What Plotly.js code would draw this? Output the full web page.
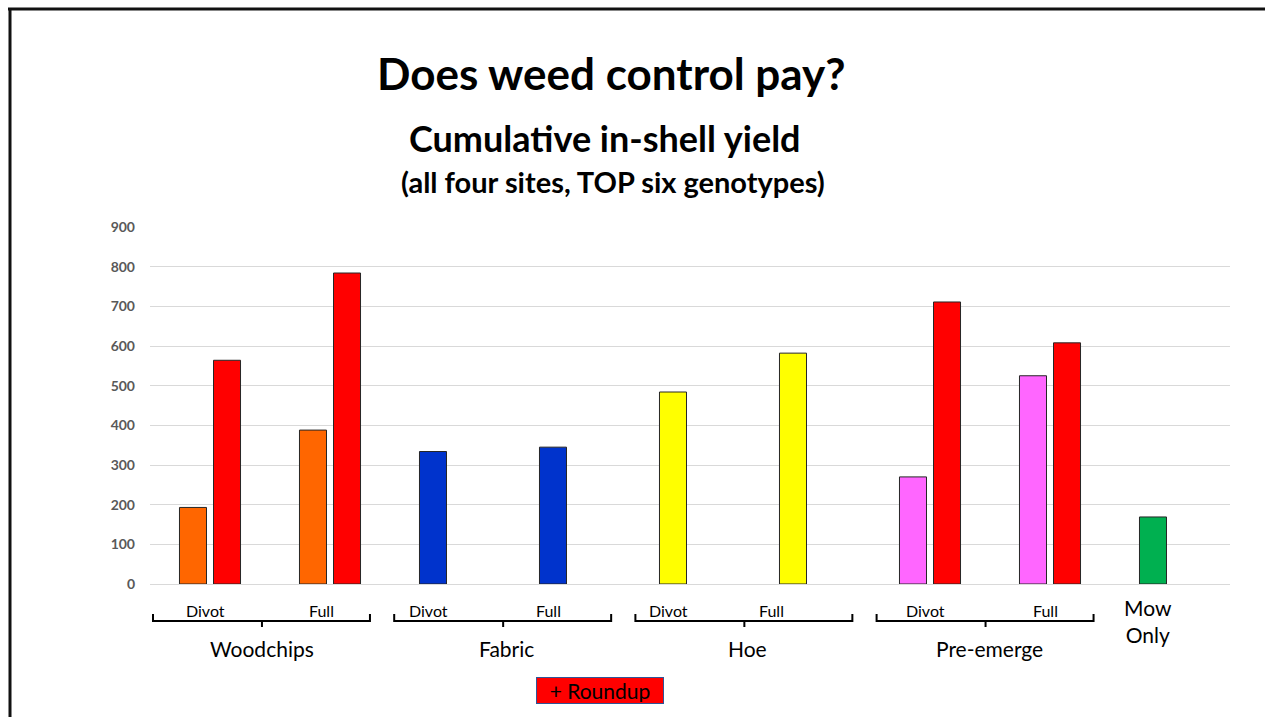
<!DOCTYPE html>
<html>
<head>
<meta charset="utf-8">
<script src="https://cdn.plot.ly/plotly-3.0.1.min.js"></script>
<style>
  html, body { margin: 0; padding: 0; background: #fff; }
  #chart { width: 1265px; height: 717px; }
</style>
</head>
<body>
<div id="chart"></div>
<script>
// Cumulative in-shell yield per weed-control treatment
const treatments = ['Woodchips', 'Fabric', 'Hoe', 'Pre-emerge'];
const variants = ['Divot', 'Full'];
const categories = [
  'Woodchips Divot', 'Woodchips Full',
  'Fabric Divot', 'Fabric Full',
  'Hoe Divot', 'Hoe Full',
  'Pre-emerge Divot', 'Pre-emerge Full',
  'Mow Only'
];
const baseYield = [193, 388, 334, 345, 484, 582, 270, 525, 169];
const roundupYield = [564, 784, null, null, null, null, 711, 608, null];
const baseColors = ['#FF6600', '#FF6600', '#0033CC', '#0033CC', '#FFFF00', '#FFFF00', '#FF66FF', '#FF66FF', '#00B050'];
const roundupColor = '#FF0000';
const controlLabel = 'Mow<br>Only';
const roundupLabel = '+ Roundup';
const yTicks = [0, 100, 200, 300, 400, 500, 600, 700, 800, 900];

// plot-area geometry in pixels
const W = 1265, H = 717;
const L = 150, R = 35, T = 227, B = 133;
const plotW = W - L - R, plotH = H - T - B;
const px = x => (x - L) / plotW;          // page pixel -> paper x
const py = y => (H - B - y) / plotH;      // page pixel -> paper y

const FONT = 'Lato, "Open Sans", sans-serif';
const outline = { color: '#262626', width: 1 };

const traces = [
  {
    type: 'bar', x: categories, y: baseYield,
    marker: { color: baseColors, line: outline },
    hoverinfo: 'x+y', showlegend: false
  },
  {
    type: 'bar', x: categories, y: roundupYield,
    marker: { color: roundupColor, line: outline },
    hoverinfo: 'x+y', showlegend: false
  }
];

// brackets grouping the Divot / Full pairs of each treatment
const shapes = [];
const annotations = [];
const yLine = py(621), yEnd = py(614), yTick = py(627);
const divotShift = [-0.04, -0.18, -0.18, -0.04];
const fullShift = [-0.075, -0.18, -0.32, -0.04];
treatments.forEach((name, k) => {
  const left = 2.01 * k - 0.475;
  const right = 2.01 * k + 1.333;
  const mid = 2.01 * k + 0.433;
  shapes.push({
    type: 'path', xref: 'x', yref: 'paper',
    path: `M ${left},${yEnd} L ${left},${yLine} L ${right},${yLine} L ${right},${yEnd} ` +
          `M ${mid},${yLine} L ${mid},${yTick}`,
    line: { color: '#000', width: 2 }
  });
  annotations.push({
    x: mid + (k >= 1 ? 0.03 : 0), y: py(648), xref: 'x', yref: 'paper',
    text: name, showarrow: false, yanchor: 'middle',
    font: { family: FONT, size: 21, color: '#000' }
  });
  annotations.push({
    x: 2 * k + divotShift[k], y: py(610), xref: 'x', yref: 'paper',
    text: variants[0], showarrow: false, yanchor: 'middle',
    font: { family: FONT, size: 16, color: '#000' }
  });
  annotations.push({
    x: 2 * k + 1 + fullShift[k], y: py(610), xref: 'x', yref: 'paper',
    text: variants[1], showarrow: false, yanchor: 'middle',
    font: { family: FONT, size: 16, color: '#000' }
  });
});

annotations.push({
  x: categories.length - 1 - 0.18, y: py(621), xref: 'x', yref: 'paper',
  text: controlLabel, showarrow: false, yanchor: 'middle',
  font: { family: FONT, size: 21, color: '#000' }
});

// "+ Roundup" key box
annotations.push({
  x: px(600), y: py(690), xref: 'paper', yref: 'paper',
  text: roundupLabel, showarrow: false, xanchor: 'center', yanchor: 'middle',
  width: 124, height: 23, borderpad: 1,
  bgcolor: roundupColor, bordercolor: '#2F5597', borderwidth: 1,
  font: { family: FONT, size: 21, color: '#000' }
});

// headings
annotations.push({
  x: px(611), y: py(73), xref: 'paper', yref: 'paper',
  text: '<b>Does weed control pay?</b>', showarrow: false, yanchor: 'middle',
  font: { family: FONT, size: 44, color: '#000' }
});
annotations.push({
  x: px(605), y: py(138), xref: 'paper', yref: 'paper',
  text: '<b>Cumulative in-shell yield</b>', showarrow: false, yanchor: 'middle',
  font: { family: FONT, size: 36, color: '#000' }
});
annotations.push({
  x: px(613), y: py(181), xref: 'paper', yref: 'paper',
  text: '<b>(all four sites, TOP six genotypes)</b>', showarrow: false, yanchor: 'middle',
  font: { family: FONT, size: 29, color: '#000' }
});

// slide frame (top and left edges)
shapes.push({
  type: 'line', xref: 'paper', yref: 'paper',
  x0: px(8), x1: px(1270), y0: py(9), y1: py(9),
  line: { color: '#111', width: 3 }
});
shapes.push({
  type: 'line', xref: 'paper', yref: 'paper',
  x0: px(10), x1: px(10), y0: py(8), y1: py(720),
  line: { color: '#111', width: 3 }
});

const layout = {
  width: W, height: H,
  margin: { l: L, r: R, t: T, b: B },
  paper_bgcolor: '#fff', plot_bgcolor: '#fff',
  barmode: 'group', bargap: 0.433, bargroupgap: 0.206,
  showlegend: false,
  xaxis: {
    type: 'category', range: [-0.5, categories.length - 0.5],
    showticklabels: false, ticks: '', showgrid: false, showline: false, zeroline: false,
    fixedrange: true
  },
  yaxis: {
    range: [0, 900], tickvals: yTicks, ticktext: yTicks.map(String),
    showgrid: true, gridcolor: '#D9D9D9', gridwidth: 1,
    zeroline: true, zerolinecolor: '#D9D9D9', zerolinewidth: 1,
    showline: false, ticks: '', ticklabelstandoff: 14,
    tickfont: { family: FONT, size: 14, color: '#595959', weight: 'bold' },
    fixedrange: true
  },
  shapes: shapes,
  annotations: annotations,
  font: { family: FONT }
};

Plotly.newPlot('chart', traces, layout, { displayModeBar: false, staticPlot: true });
</script>
</body>
</html>
